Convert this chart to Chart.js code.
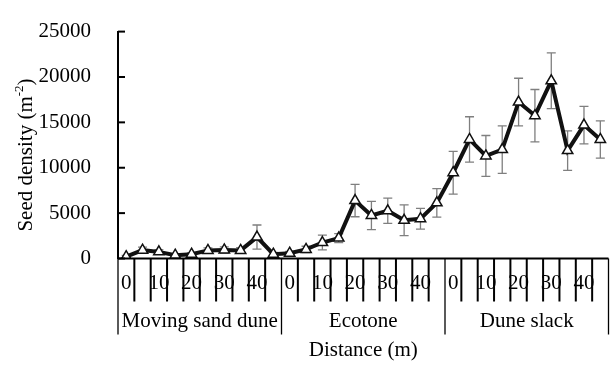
<!DOCTYPE html>
<html>
<head>
<meta charset="utf-8">
<script src="https://cdn.jsdelivr.net/npm/chart.js@4.4.1/dist/chart.umd.min.js"></script>
<style>
  html, body { margin: 0; padding: 0; background: #fff; }
</style>
</head>
<body>
<canvas id="seedChart" width="616" height="366"></canvas>
<script>
const zones = ['Moving sand dune', 'Ecotone', 'Dune slack'];
const distances = [0, 5, 10, 15, 20, 25, 30, 35, 40, 45];
const distanceTicks = [0, 10, 20, 30, 40];
const yTicks = [0, 5000, 10000, 15000, 20000, 25000];

// mean seed density per sample point (zone by zone)
const seedDensity = [
  200, 920, 730, 370, 470, 890, 940, 890, 2360, 470,
  580, 1000, 1760, 2250, 6380, 4740, 5260, 4210, 4380, 6130,
  9450, 13120, 11300, 12000, 17240, 15740, 19580, 11890, 14700, 13120
];
// standard error
const seedDensityErr = [
  150, 330, 250, 150, 150, 280, 350, 300, 1330, 200,
  200, 350, 820, 500, 1780, 1550, 1400, 1700, 1140, 1570,
  2360, 2500, 2250, 2620, 2620, 2880, 3070, 2180, 2060, 2050
];

const FONT = "'Liberation Serif', 'Times New Roman', serif";
const FS = 21;
const labels = [];
zones.forEach(z => distances.forEach(d => labels.push(z + ' ' + d)));

const errorBars = {
  id: 'errorBars',
  beforeDatasetsDraw(chart) {
    const { ctx, scales: { x, y } } = chart;
    ctx.save();
    ctx.strokeStyle = '#7f7f7f';
    ctx.lineWidth = 1.3;
    seedDensity.forEach((v, i) => {
      const px = x.getPixelForValue(i);
      const top = y.getPixelForValue(v + seedDensityErr[i]);
      const bot = y.getPixelForValue(Math.max(0, v - seedDensityErr[i]));
      ctx.beginPath();
      ctx.moveTo(px, top); ctx.lineTo(px, bot);
      ctx.moveTo(px - 4.5, top); ctx.lineTo(px + 4.5, top);
      ctx.moveTo(px - 4.5, bot); ctx.lineTo(px + 4.5, bot);
      ctx.stroke();
    });
    ctx.restore();
  }
};

const axesDecor = {
  id: 'axesDecor',
  afterDraw(chart) {
    const { ctx, chartArea, scales: { x, y } } = chart;
    const step = x.getPixelForValue(1) - x.getPixelForValue(0);
    const base = chartArea.bottom;
    ctx.save();
    ctx.strokeStyle = '#000';
    ctx.fillStyle = '#000';

    // y ticks pointing inward
    ctx.lineWidth = 2;
    yTicks.forEach(v => {
      const py = y.getPixelForValue(v);
      ctx.beginPath(); ctx.moveTo(chartArea.left, py); ctx.lineTo(chartArea.left + 7, py); ctx.stroke();
    });

    // x axis line
    ctx.beginPath(); ctx.moveTo(chartArea.left, base); ctx.lineTo(chartArea.right, base); ctx.stroke();

    // category separators
    for (let i = 0; i <= labels.length; i++) {
      const px = x.getPixelForValue(0) + (i - 0.5) * step;
      const zoneEdge = i % distances.length === 0;
      ctx.lineWidth = zoneEdge ? 1.3 : 2;
      ctx.beginPath(); ctx.moveTo(px, base); ctx.lineTo(px, base + (zoneEdge ? 76 : 43)); ctx.stroke();
    }

    ctx.textAlign = 'center';
    ctx.textBaseline = 'middle';
    ctx.font = FS + 'px ' + FONT;
    zones.forEach((z, zi) => {
      distanceTicks.forEach(d => {
        const idx = zi * distances.length + distances.indexOf(d);
        ctx.fillText(String(d), x.getPixelForValue(idx), base + 25);
      });
      const first = x.getPixelForValue(zi * distances.length) - step / 2;
      const last = x.getPixelForValue((zi + 1) * distances.length - 1) + step / 2;
      ctx.fillText(z, (first + last) / 2, base + 63);
    });
    ctx.fillText('Distance (m)', (chartArea.left + chartArea.right) / 2, 350);

    // y title with superscript
    ctx.translate(26, 155);
    ctx.rotate(-Math.PI / 2);
    const main = 'Seed density (m';
    ctx.font = FS + 'px ' + FONT;
    const w1 = ctx.measureText(main).width;
    ctx.font = '13px ' + FONT;
    const w2 = ctx.measureText('-2').width;
    ctx.font = FS + 'px ' + FONT;
    const w3 = ctx.measureText(')').width;
    let cx = -(w1 + w2 + w3) / 2;
    ctx.textAlign = 'left';
    ctx.fillText(main, cx, 0);
    cx += w1;
    ctx.font = '13px ' + FONT;
    ctx.fillText('-2', cx, -6);
    cx += w2;
    ctx.font = FS + 'px ' + FONT;
    ctx.fillText(')', cx, 0);
    ctx.restore();
  }
};

new Chart(document.getElementById('seedChart'), {
  type: 'line',
  data: {
    labels: labels,
    datasets: [{
      data: seedDensity,
      borderColor: '#111',
      borderWidth: 4,
      tension: 0,
      pointStyle: 'triangle',
      pointRadius: 6,
      pointBorderWidth: 1.5,
      pointBackgroundColor: '#fff',
      pointBorderColor: '#111'
    }]
  },
  options: {
    responsive: false,
    animation: false,
    devicePixelRatio: 1,
    layout: { padding: { left: 0, right: 4, top: 20, bottom: 107.5 } },
    plugins: { legend: { display: false }, tooltip: { enabled: false } },
    scales: {
      x: { type: 'category', display: false, offset: true },
      y: {
        min: 0,
        max: 25000,
        afterFit: s => { s.width = 118; },
        afterBuildTicks: s => { s.ticks = yTicks.map(v => ({ value: v })); },
        grid: { display: false },
        border: { display: true, color: '#000', width: 2 },
        ticks: { padding: 19, color: '#000', font: { family: FONT, size: FS }, callback: v => String(v) }
      }
    }
  },
  plugins: [errorBars, axesDecor]
});
</script>
</body>
</html>
